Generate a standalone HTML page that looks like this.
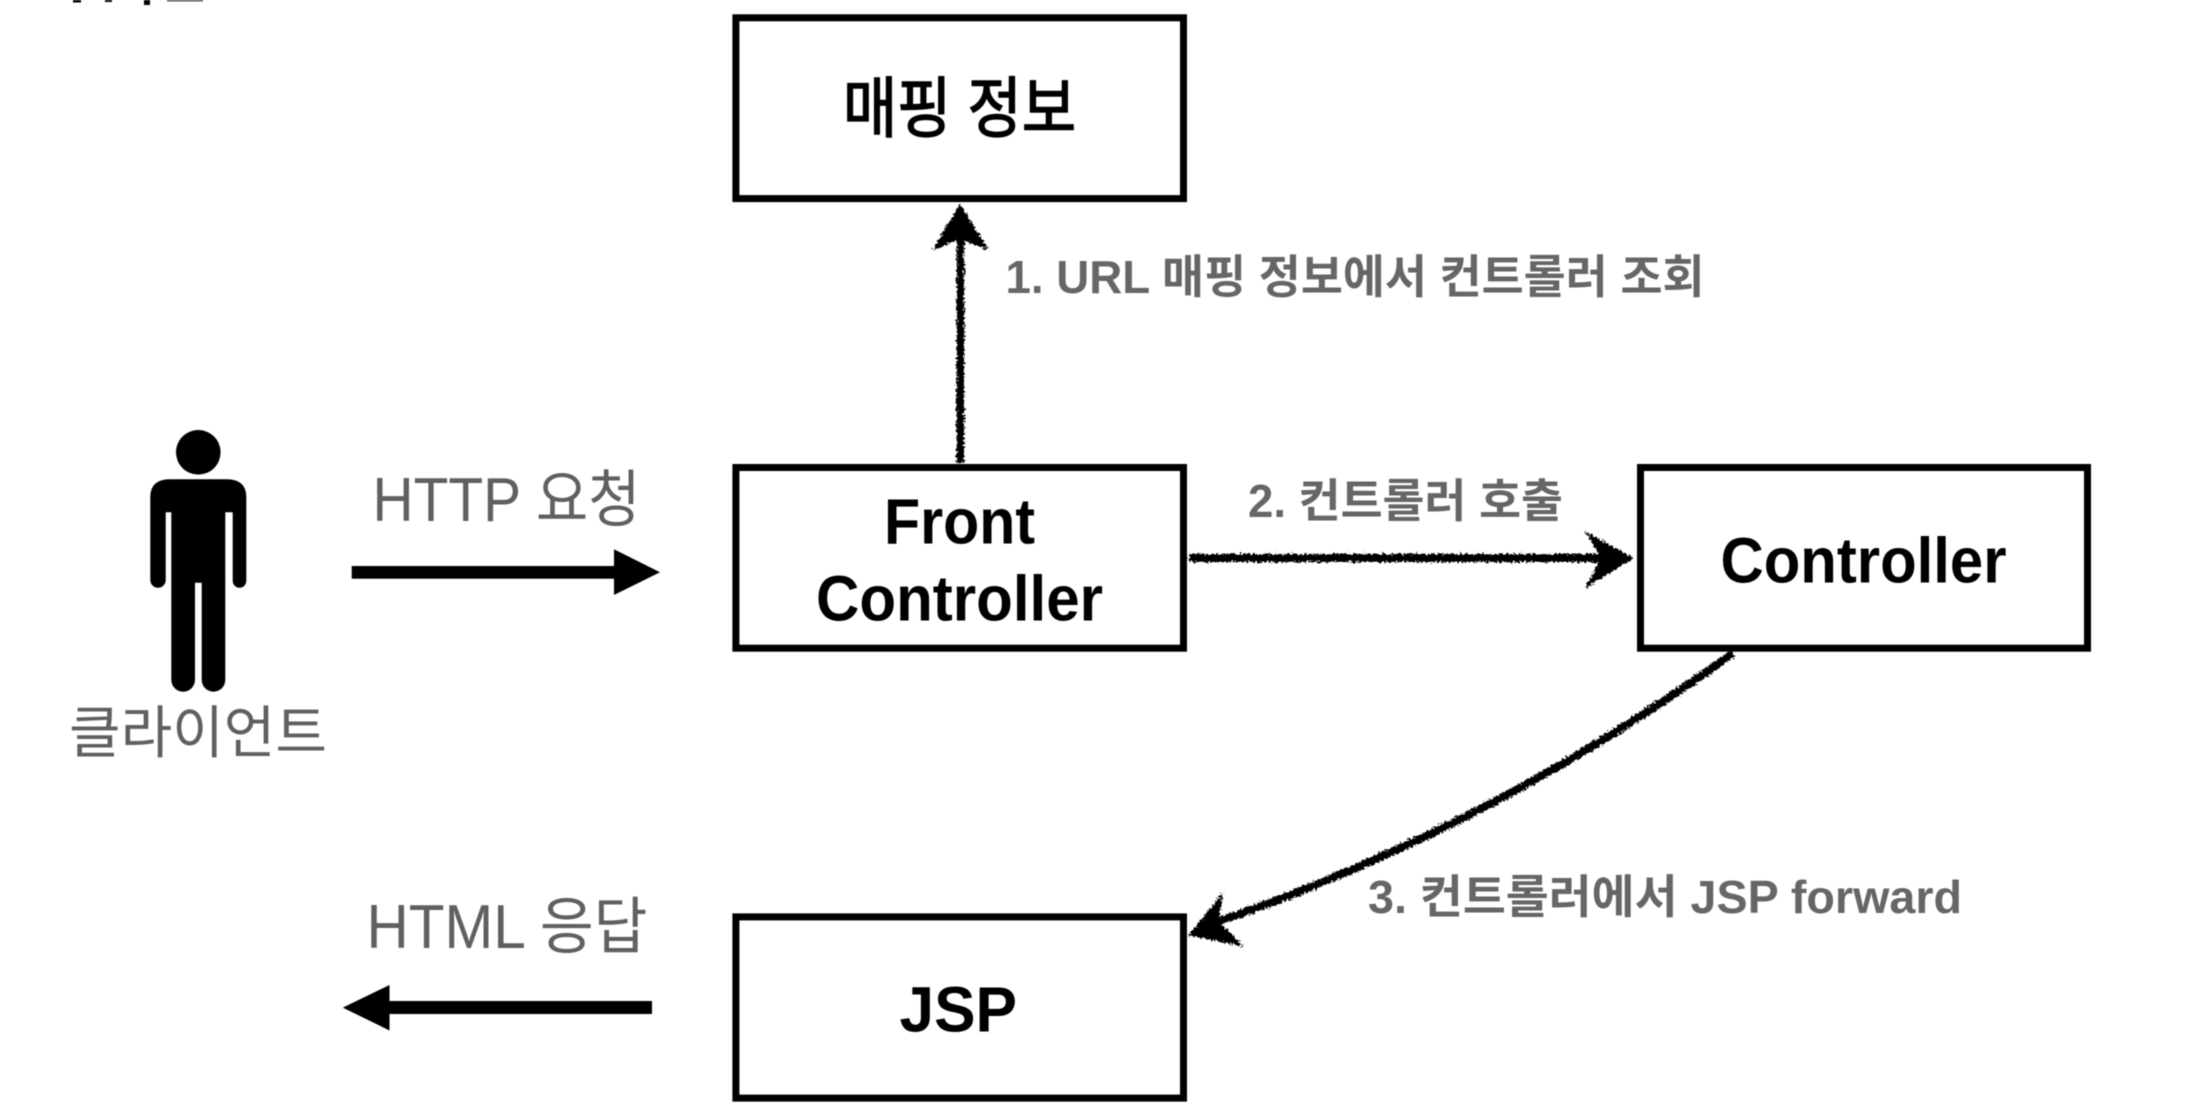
<!DOCTYPE html>
<html>
<head>
<meta charset="utf-8">
<style>
html,body{margin:0;padding:0;background:#fff;width:2196px;height:1118px;overflow:hidden}
svg{display:block;filter:blur(.5px)}
text{font-family:"Liberation Sans","Noto Sans CJK KR",sans-serif}
.b{font-weight:700;fill:#000}
.k{font-weight:400;fill:#000;stroke:#000;stroke-width:1.6}
.g{font-weight:400;fill:#606060}
.gb{font-weight:700;fill:#666}
</style>
</head>
<body>
<svg width="2196" height="1118" viewBox="0 0 2196 1118" xmlns="http://www.w3.org/2000/svg">
<defs>
<filter id="rough" x="-10%" y="-10%" width="120%" height="120%" filterUnits="objectBoundingBox">
<feTurbulence type="fractalNoise" baseFrequency="0.45" numOctaves="2" seed="4" result="n"/>
<feDisplacementMap in="SourceGraphic" in2="n" scale="7" xChannelSelector="R" yChannelSelector="G"/>
</filter>
<filter id="roughH" x="-5%" y="-200%" width="110%" height="500%" filterUnits="objectBoundingBox">
<feTurbulence type="fractalNoise" baseFrequency="0.45" numOctaves="2" seed="9" result="n"/>
<feDisplacementMap in="SourceGraphic" in2="n" scale="7" xChannelSelector="R" yChannelSelector="G"/>
</filter>
</defs>
<rect width="2196" height="1118" fill="#fff"/>

<!-- clipped heading remnants -->
<rect x="73" y="0" width="8" height="2.5" fill="#000"/>
<rect x="105" y="0" width="7" height="2" fill="#000"/>
<rect x="144" y="0" width="6" height="5" fill="#000"/>
<rect x="167" y="0" width="36" height="1.5" fill="#555"/>

<!-- boxes -->
<g fill="#fff" stroke="#000" stroke-width="7">
<rect x="735.9" y="17.8" width="447.6" height="180.8"/>
<rect x="735.9" y="467.5" width="447.6" height="180.7"/>
<rect x="1640.5" y="467.5" width="447" height="180.7"/>
<rect x="735.9" y="916.9" width="447.6" height="181.2"/>
</g>

<!-- box labels -->
<text class="k" x="843" y="131.5" font-size="66" textLength="233" lengthAdjust="spacingAndGlyphs">매핑 정보</text>
<text class="b" x="884" y="543.6" font-size="64" textLength="151" lengthAdjust="spacingAndGlyphs">Front</text>
<text class="b" x="816" y="620.5" font-size="64" textLength="287" lengthAdjust="spacingAndGlyphs">Controller</text>
<text class="b" x="1720.5" y="582.5" font-size="64" textLength="286" lengthAdjust="spacingAndGlyphs">Controller</text>
<text class="b" x="899.5" y="1031.5" font-size="64" textLength="117.5" lengthAdjust="spacingAndGlyphs">JSP</text>

<!-- person -->
<circle cx="198.3" cy="452.3" r="22.3" fill="#000"/>
<path fill="#000" d="M150.3 497 Q150.3 479.3 170 479.3 H226.6 Q246.3 479.3 246.3 497 V580.9 A6.8 6.8 0 0 1 232.7 580.9 V512.3 H225.3 V679.9 A11.8 11.8 0 0 1 201.7 679.9 V582.7 H195 V679.9 A11.8 11.8 0 0 1 171.3 679.9 V512.3 H165.7 V580 A7.7 7.7 0 0 1 150.3 580 Z"/>
<text class="g" x="69" y="752.5" font-size="57" textLength="258" lengthAdjust="spacingAndGlyphs">클라이언트</text>

<!-- solid arrows -->
<text class="g" x="372.5" y="521" font-size="62" textLength="268" lengthAdjust="spacingAndGlyphs">HTTP 요청</text>
<rect x="351.7" y="566" width="263" height="12.7" fill="#000"/>
<polygon points="614,549.3 660,572.3 614,595" fill="#000"/>

<text class="g" x="366.5" y="948" font-size="62" textLength="281" lengthAdjust="spacingAndGlyphs">HTML 응답</text>
<rect x="389" y="1001" width="263" height="13" fill="#000"/>
<polygon points="389.5,985 342.8,1007.6 389.5,1030.5" fill="#000"/>

<!-- edge labels -->
<text class="gb" x="1005.5" y="293" font-size="46" textLength="699" lengthAdjust="spacingAndGlyphs">1. URL 매핑 정보에서 컨트롤러 조회</text>
<text class="gb" x="1248" y="516.8" font-size="46" textLength="315" lengthAdjust="spacingAndGlyphs">2. 컨트롤러 호출</text>
<text class="gb" x="1368" y="913" font-size="46" textLength="594" lengthAdjust="spacingAndGlyphs">3. 컨트롤러에서 JSP forward</text>

<!-- sketchy arrows -->
<g filter="url(#rough)">
<path d="M960.4 462.5 V232" stroke="#000" stroke-width="7.5" fill="none"/>
<polygon points="960,205 987,249 960.5,238 934,249" fill="#000" stroke="#000" stroke-width="1.5"/>
</g>
<g filter="url(#roughH)">
<path d="M1189 558 H1610" stroke="#000" stroke-width="8" fill="none"/>
<polygon points="1632,558 1587,586 1602,558 1587,533" fill="#000" stroke="#000" stroke-width="1.5"/>
</g>
<g filter="url(#rough)">
<path d="M1733 653 Q1494 826 1217 922" stroke="#000" stroke-width="8" fill="none"/>
<polygon points="1190,935 1222,895 1218,921 1241,945" fill="#000" stroke="#000" stroke-width="1.5"/>
</g>
</svg>
</body>
</html>
